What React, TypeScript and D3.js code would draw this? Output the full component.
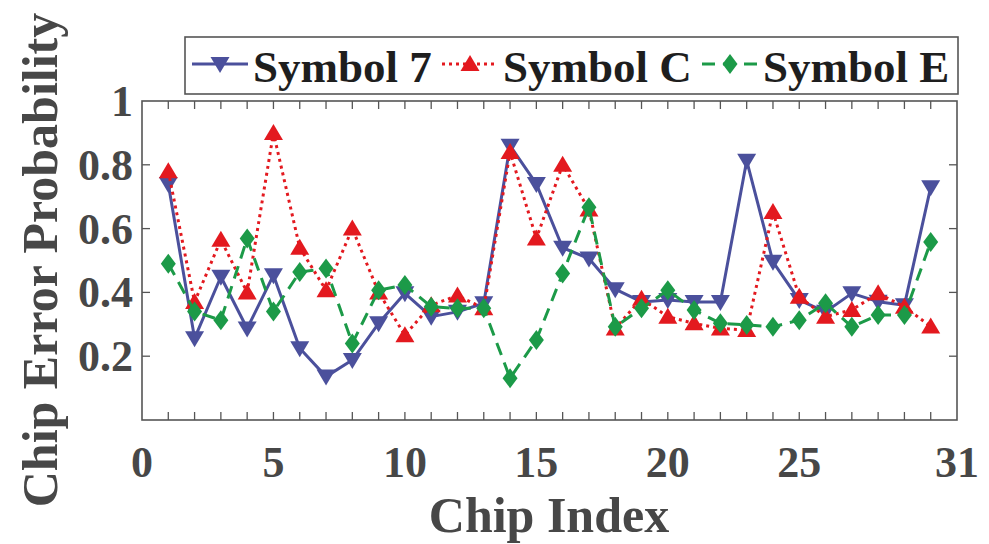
import React from 'react';
import * as d3 from 'd3';

// chip indices and per-symbol error probabilities
const chipIndex = [1,2,3,4,5,6,7,8,9,10,11,12,13,14,15,16,17,18,19,20,21,22,23,24,25,26,27,28,29,30];
const symbol7 = [0.74,0.256,0.449,0.287,0.454,0.225,0.136,0.188,0.303,0.397,0.324,0.339,0.366,0.86,0.74,0.54,0.506,0.41,0.37,0.376,0.37,0.37,0.813,0.496,0.376,0.339,0.397,0.371,0.36,0.73];
const symbolC = [0.78,0.37,0.565,0.40,0.90,0.54,0.407,0.60,0.40,0.266,0.36,0.39,0.35,0.84,0.569,0.80,0.66,0.287,0.38,0.324,0.303,0.287,0.282,0.652,0.386,0.324,0.345,0.397,0.355,0.293];
const symbolE = [0.49,0.34,0.313,0.569,0.34,0.464,0.475,0.24,0.407,0.423,0.355,0.35,0.35,0.131,0.251,0.459,0.667,0.292,0.35,0.407,0.345,0.303,0.298,0.292,0.313,0.366,0.292,0.329,0.329,0.558];

const xTickLabels = [0, 5, 10, 15, 20, 25, 31];
const yTickLabels = [0.2, 0.4, 0.6, 0.8, 1];

const series = [
  {name: 'Symbol 7', values: symbol7, color: '#4b509c', dash: null, marker: 'down'},
  {name: 'Symbol C', values: symbolC, color: '#e3191f', dash: '3,4', marker: 'up'},
  {name: 'Symbol E', values: symbolE, color: '#1c9a48', dash: '13,8', marker: 'diamond'},
];

const font = '"Liberation Serif", "Times New Roman", serif';
const axisColor = '#555';
const textColor = '#474747';

function markerPath(kind) {
  if (kind === 'up') return 'M0,-9L9.5,7L-9.5,7Z';
  if (kind === 'down') return 'M0,9L9.5,-7L-9.5,-7Z';
  return 'M0,-10L7.5,0L0,10L-7.5,0Z';
}

export default function App() {
  const left = 142, right = 957, top = 101, bottom = 420;

  const x = d3.scaleLinear().domain([0, 31]).range([left, right]);
  const y = d3.scaleLinear().domain([0, 1]).range([bottom, top]);

  const line = d3.line()
    .x((d, i) => x(chipIndex[i]))
    .y(d => y(d));

  const minorX = d3.range(1, 31);
  const minorY = [0.2, 0.4, 0.6, 0.8];

  const legendX = [192, 442, 702];
  const legendText = [253, 503, 763];

  return (
    <div style={{position: 'absolute', left: 0, top: 0}}>
      <svg width={989} height={544} style={{display: 'block', background: 'white'}}>
        {/* plot box */}
        <rect x={left} y={top} width={right - left} height={bottom - top}
          fill="none" stroke={axisColor} strokeWidth={1.6}/>

        {/* ticks */}
        {minorX.map(t => (
          <g key={'xt' + t} stroke={axisColor} strokeWidth={1.3}>
            <line x1={x(t)} x2={x(t)} y1={bottom} y2={bottom - 8}/>
            <line x1={x(t)} x2={x(t)} y1={top} y2={top + 8}/>
          </g>
        ))}
        {minorY.map(t => (
          <g key={'yt' + t} stroke={axisColor} strokeWidth={1.3}>
            <line x1={left} x2={left + 8} y1={y(t)} y2={y(t)}/>
            <line x1={right} x2={right - 8} y1={y(t)} y2={y(t)}/>
          </g>
        ))}

        {/* tick labels */}
        {xTickLabels.map(t => (
          <text key={'xl' + t} x={x(t)} y={477} textAnchor="middle"
            fontFamily={font} fontWeight="bold" fontSize={44} fill={textColor}>{t}</text>
        ))}
        {yTickLabels.map(t => (
          <text key={'yl' + t} x={133} y={y(t) + 15} textAnchor="end"
            fontFamily={font} fontWeight="bold" fontSize={44} fill={textColor}>{t === 1 ? '1' : String(t)}</text>
        ))}

        {/* axis labels */}
        <text x={549} y={532} textAnchor="middle" fontFamily={font} fontWeight="bold"
          fontSize={50} fill={textColor}>Chip Index</text>
        <text transform="translate(57,260)rotate(-90)" textAnchor="middle" fontFamily={font}
          fontWeight="bold" fontSize={50} fill={textColor}>Chip Error Probability</text>

        {/* series */}
        {series.map(s => (
          <g key={s.name}>
            <path d={line(s.values)} fill="none" stroke={s.color} strokeWidth={3}
              strokeDasharray={s.dash || undefined} strokeLinejoin="round"/>
            {s.values.map((v, i) => (
              <path key={i} d={markerPath(s.marker)} fill={s.color}
                transform={`translate(${x(chipIndex[i])},${y(v)})`}/>
            ))}
          </g>
        ))}

        {/* legend */}
        <rect x={185} y={37} width={773} height={57} fill="white" stroke={axisColor} strokeWidth={1.6}/>
        {series.map((s, i) => (
          <g key={'lg' + s.name}>
            <line x1={legendX[i]} x2={legendX[i] + 56} y1={64} y2={64} stroke={s.color}
              strokeWidth={3} strokeDasharray={s.dash || undefined}/>
            <path d={markerPath(s.marker)} fill={s.color} transform={`translate(${legendX[i] + 28},64)`}/>
            <text x={legendText[i]} y={82} fontFamily={font} fontWeight="bold" fontSize={45}
              fill="#1e1e1e">{s.name}</text>
          </g>
        ))}
      </svg>
    </div>
  );
}
